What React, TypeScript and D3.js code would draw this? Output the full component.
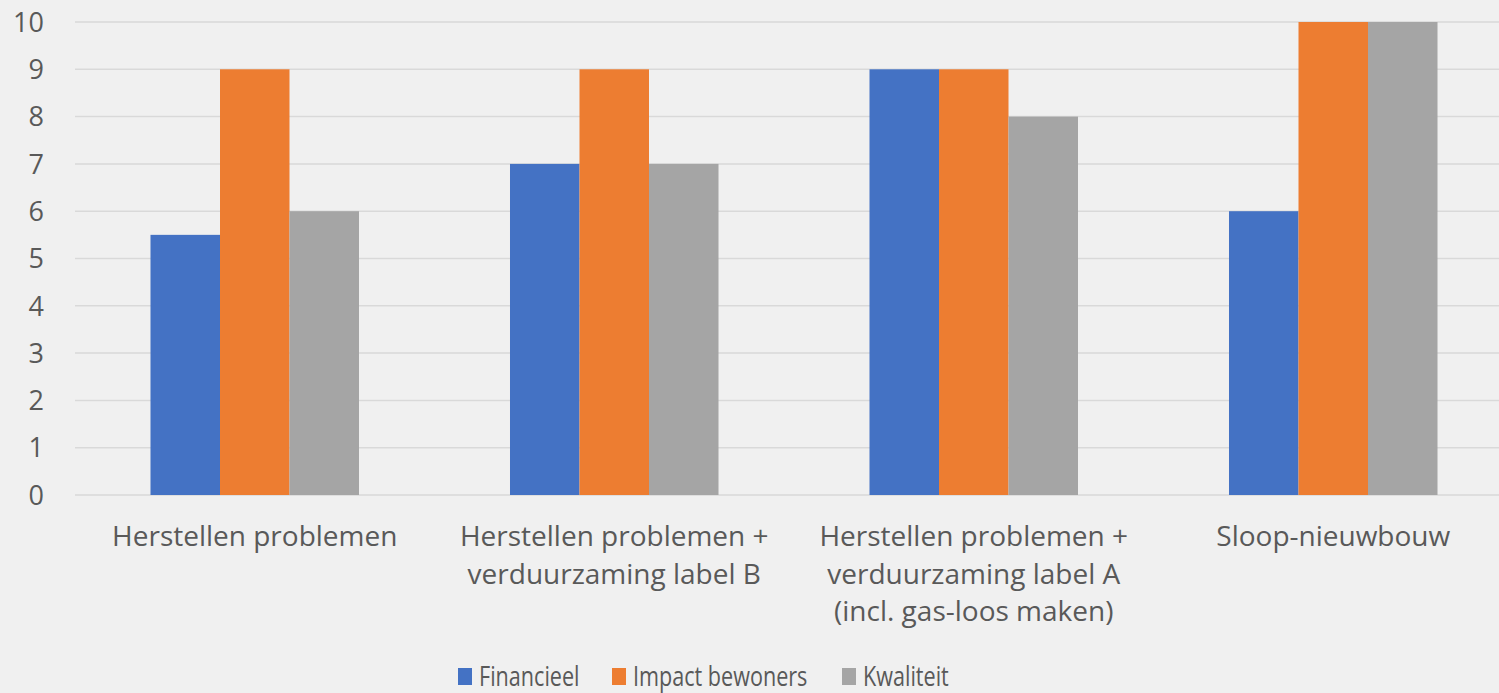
import React, { useRef, useEffect } from "react";
import * as d3 from "d3";

const categories = [
	["Herstellen problemen"],
	["Herstellen problemen +", "verduurzaming label B"],
	["Herstellen problemen +", "verduurzaming label A", "(incl. gas-loos maken)"],
	["Sloop-nieuwbouw"],
];
const seriesNames = ["Financieel", "Impact bewoners", "Kwaliteit"];
const financieel = [5.5, 7, 9, 6];
const impactBewoners = [9, 9, 9, 10];
const kwaliteit = [6, 7, 8, 10];
const yTicks = [0, 1, 2, 3, 4, 5, 6, 7, 8, 9, 10];
const colors = ["#4472C4", "#ED7D31", "#A5A5A5"];

const App = () => {
	const svgRef = useRef<SVGSVGElement | null>(null);

	useEffect(() => {
		if (!svgRef.current) return;
		const width = 1499;
		const height = 693;
		const svg = d3.select(svgRef.current);
		svg.selectAll("*").remove();
		svg.attr("width", width).attr("height", height);

		const font = "'Open Sans', 'Noto Sans', sans-serif";
		const textColor = "#595959";

		svg.append("rect").attr("width", width).attr("height", height).attr("fill", "#F0F0F0");

		const left = 75;
		const right = 1513;
		const top = 22;
		const bottom = 495;

		const y = d3.scaleLinear().domain([0, 10]).range([bottom, top]);
		const x = d3
			.scaleBand<number>()
			.domain(d3.range(categories.length))
			.range([left, right])
			.paddingInner(0.42)
			.paddingOuter(0.21);
		const xs = d3
			.scaleBand<number>()
			.domain(d3.range(seriesNames.length))
			.range([0, x.bandwidth()]);

		// grid
		svg.append("g")
			.selectAll("line")
			.data(yTicks)
			.join("line")
			.attr("x1", left)
			.attr("x2", width)
			.attr("y1", (d) => y(d))
			.attr("y2", (d) => y(d))
			.attr("stroke", "#D9D9D9")
			.attr("stroke-width", 1.5);

		// y labels
		svg.append("g")
			.selectAll("text")
			.data(yTicks)
			.join("text")
			.attr("x", 44)
			.attr("y", (d) => y(d))
			.attr("dy", "0.36em")
			.attr("text-anchor", "end")
			.attr("font-family", font)
			.attr("font-size", 27)
			.attr("fill", textColor)
			.text((d) => d);

		const series = [financieel, impactBewoners, kwaliteit];
		series.forEach((vals, si) => {
			svg.append("g")
				.selectAll("rect")
				.data(vals)
				.join("rect")
				.attr("x", (_, i) => (x(i) as number) + (xs(si) as number))
				.attr("y", (d) => y(d))
				.attr("width", xs.bandwidth())
				.attr("height", (d) => bottom - y(d))
				.attr("fill", colors[si]);
		});

		// x labels
		const xl = svg.append("g");
		categories.forEach((lines, i) => {
			const cx = (x(i) as number) + x.bandwidth() / 2;
			const t = xl
				.append("text")
				.attr("text-anchor", "middle")
				.attr("font-family", font)
				.attr("font-size", 28)
				.attr("fill", textColor);
			lines.forEach((l, li) => {
				t.append("tspan").attr("x", cx).attr("y", 546 + li * 37.5).text(l);
			});
		});

		// legend
		const legendX = [458, 612, 842];
		const lg = svg.append("g");
		seriesNames.forEach((name, i) => {
			lg.append("rect")
				.attr("x", legendX[i])
				.attr("y", 668)
				.attr("width", 14)
				.attr("height", 17)
				.attr("fill", colors[i]);
			lg.append("g")
				.attr("transform", `translate(${legendX[i] + 21},686) scale(0.8,1)`)
				.append("text")
				.attr("font-family", font)
				.attr("font-size", 27)
				.attr("fill", textColor)
				.text(name);
		});
	}, []);

	return (
		<div style={{ position: "absolute", left: 0, top: 0 }}>
			<svg ref={svgRef} style={{ display: "block" }}></svg>
		</div>
	);
};

export default App;
